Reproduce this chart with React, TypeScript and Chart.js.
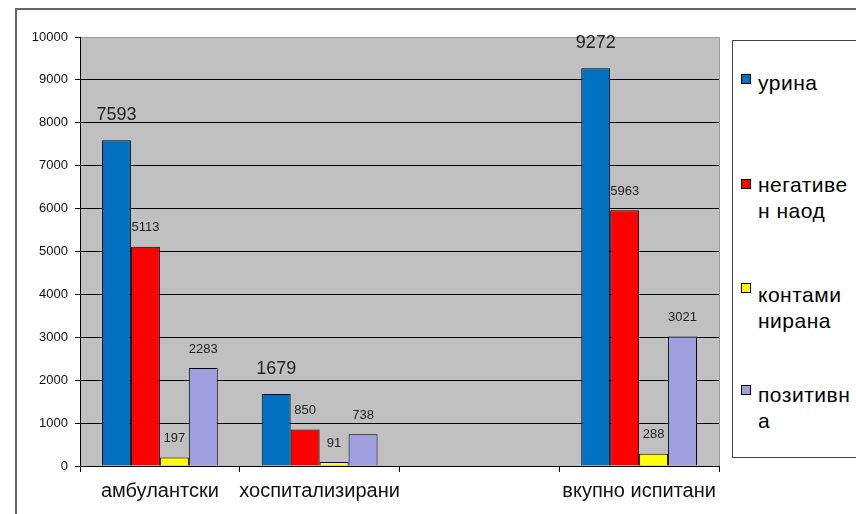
import React, { useEffect, useRef } from "react";
import { Chart, registerables } from "chart.js";

Chart.register(...registerables);

const categories = ["амбулантски", "хоспитализирани", "", "вкупно испитани"];
const urina = [7593, 1679, null, 9272];
const negativen = [5113, 850, null, 5963];
const kontaminirana = [197, 91, null, 288];
const pozitivna = [2283, 738, null, 3021];
const seriesNames = ["урина", "негативен наод", "контаминирана", "позитивна"];
const legendLines = [["урина"], ["негативе", "н наод"], ["контами", "нирана"], ["позитивн", "а"]];
const seriesColors = ["#0070C0", "#FF0000", "#FFFF00", "#A0A0E0"];
const yMin = 0;
const yMax = 10000;
const yStep = 1000;

const FONT = "'Liberation Sans', Arial, sans-serif";

const bgPlugin = {
  id: "plotBg",
  beforeDraw(chart: any) {
    const { ctx, chartArea } = chart;
    if (!chartArea) return;
    ctx.save();
    ctx.fillStyle = "#C0C0C0";
    ctx.fillRect(chartArea.left, chartArea.top, chartArea.right - chartArea.left, chartArea.bottom - chartArea.top);
    ctx.strokeStyle = "#9a9a9a";
    ctx.lineWidth = 1;
    ctx.beginPath();
    ctx.moveTo(chartArea.right + 0.5, chartArea.top);
    ctx.lineTo(chartArea.right + 0.5, chartArea.bottom);
    ctx.stroke();
    ctx.restore();
  },
};

const valueLabelPlugin = {
  id: "valueLabels",
  afterDatasetsDraw(chart: any) {
    const { ctx } = chart;
    ctx.save();
    ctx.textAlign = "center";
    ctx.textBaseline = "middle";
    chart.data.datasets.forEach((ds: any, di: number) => {
      const meta = chart.getDatasetMeta(di);
      const big = di === 0;
      ctx.font = `${big ? 18 : 13}px ${FONT}`;
      ctx.fillStyle = "#222";
      meta.data.forEach((el: any, i: number) => {
        const v = ds.data[i];
        if (v === null || v === undefined) return;
        const off = big ? 25 : 19;
        ctx.fillText(String(v), el.x, el.y - off);
      });
    });
    ctx.restore();
  },
};

export default function App() {
  const canvasRef = useRef<HTMLCanvasElement | null>(null);

  useEffect(() => {
    document.body.style.margin = "0";
    document.body.style.overflow = "hidden";
    const canvas = canvasRef.current;
    if (!canvas) return;
    const seriesData = [urina, negativen, kontaminirana, pozitivna];
    const chart = new Chart(canvas, {
      type: "bar",
      data: {
        labels: categories,
        datasets: seriesData.map((d, i) => ({
          label: seriesNames[i],
          data: d,
          backgroundColor: seriesColors[i],
          borderColor: "#000",
          borderWidth: 1,
          categoryPercentage: 0.725,
          barPercentage: 1.0,
        })),
      },
      options: {
        responsive: false,
        animation: false,
        layout: { padding: { top: 37, right: 137, left: 0, bottom: 0 } },
        plugins: {
          legend: { display: false },
          tooltip: { enabled: false },
          title: { display: false },
        },
        scales: {
          x: {
            grid: {
              offset: true,
              drawOnChartArea: false,
              drawTicks: true,
              tickLength: 6,
              color: "#000",
              tickColor: "#000",
            },
            border: { display: true, color: "#000", width: 1 },
            ticks: {
              color: "#111",
              font: { family: FONT, size: 20 },
              padding: 7,
              maxRotation: 0,
              autoSkip: false,
            },
            afterFit(scale: any) {
              scale.height = 48;
            },
          },
          y: {
            min: yMin,
            max: yMax,
            grid: {
              color: (c: any) => (c.tick && c.tick.value === yMax ? "#9a9a9a" : "#000"),
              tickColor: "#000",
              drawTicks: true,
              tickLength: 5,
            },
            border: { display: true, color: "#000", width: 1 },
            ticks: {
              stepSize: yStep,
              color: "#111",
              font: { family: FONT, size: 13 },
              padding: 7,
              callback: (v: any) => String(v),
            },
            afterFit(scale: any) {
              scale.width = 80;
            },
          },
        },
      },
      plugins: [bgPlugin, valueLabelPlugin],
    });
    return () => chart.destroy();
  }, []);

  const squareCenters = [79, 184, 288, 390];
  const textTops = [70, 172, 282, 382];

  return (
    <div
      style={{
        position: "fixed",
        left: 0,
        top: 0,
        width: 856,
        height: 514,
        overflow: "hidden",
        background: "#fff",
        fontFamily: FONT,
      }}
    >
      <div
        style={{
          position: "absolute",
          left: 15,
          top: 8,
          width: 900,
          height: 600,
          borderTop: "2px solid #666",
          borderLeft: "2px solid #666",
          boxSizing: "border-box",
        }}
      />
      <canvas ref={canvasRef} width={856} height={514} style={{ position: "absolute", left: 0, top: 0, display: "block" }} />
      <div
        style={{
          position: "absolute",
          left: 732,
          top: 40,
          width: 200,
          height: 418,
          border: "1px solid #444",
          boxSizing: "border-box",
          background: "#fff",
        }}
      />
      {legendLines.map((lines, i) => (
        <React.Fragment key={i}>
          <div
            style={{
              position: "absolute",
              left: 741,
              top: squareCenters[i] - 5,
              width: 10,
              height: 10,
              background: seriesColors[i],
              border: "1px solid #000",
              boxSizing: "border-box",
            }}
          />
          <div
            style={{
              position: "absolute",
              left: 758,
              top: textTops[i],
              fontSize: 21,
              lineHeight: "26px",
              letterSpacing: "0.5px",
              color: "#000",
              whiteSpace: "nowrap",
            }}
          >
            {lines.map((l, j) => (
              <div key={j}>{l}</div>
            ))}
          </div>
        </React.Fragment>
      ))}
    </div>
  );
}
